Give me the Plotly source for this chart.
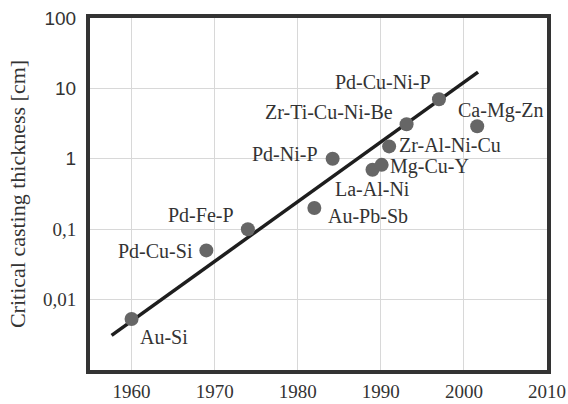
import math
import plotly.graph_objects as go

# ---- data ----
alloys = ["Au-Si", "Pd-Cu-Si", "Pd-Fe-P", "Au-Pb-Sb", "Pd-Ni-P", "La-Al-Ni",
          "Mg-Cu-Y", "Zr-Al-Ni-Cu", "Zr-Ti-Cu-Ni-Be", "Pd-Cu-Ni-P", "Ca-Mg-Zn"]
years = [1960, 1969, 1974, 1982, 1984.2, 1989, 1990.1, 1991, 1993.1, 1997, 2001.6]
thickness = [0.0053, 0.05, 0.1, 0.2, 1.0, 0.7, 0.82, 1.5, 3.1, 7.0, 2.9]

trend_years = [1957.6, 2001.7]
trend_thickness = [0.0031, 17.0]

x_ticks = [1960, 1970, 1980, 1990, 2000, 2010]
y_ticks = [0.01, 0.1, 1, 10, 100]
y_tick_labels = ["0,01", "0,1", "1", "10", "100"]

# ---- style ----
SERIF = "Liberation Serif, Times New Roman, serif"
SANS = "Liberation Sans, Arial, sans-serif"
TXT = "#333333"

# label placement (anchor, xshift, yshift) in pixels
label_style = {
    "Au-Si": ("left", 6, -18),
    "Pd-Cu-Si": ("right", -11, -1),
    "Pd-Fe-P": ("right", -12, 14),
    "Au-Pb-Sb": ("left", 12, -8),
    "Pd-Ni-P": ("right", -13, 5),
    "La-Al-Ni": ("center", 0, -19),
    "Mg-Cu-Y": ("left", 6, -2),
    "Zr-Al-Ni-Cu": ("left", 8, 1),
    "Zr-Ti-Cu-Ni-Be": ("right", -12, 12),
    "Pd-Cu-Ni-P": ("right", -6, 17),
    "Ca-Mg-Zn": ("center", 24, 16),
}

fig = go.Figure()

fig.add_trace(go.Scatter(
    x=trend_years, y=trend_thickness, mode="lines",
    line=dict(color="#1e1e1e", width=3.5), showlegend=False, hoverinfo="skip"))

fig.add_trace(go.Scatter(
    x=years, y=thickness, mode="markers",
    marker=dict(color="#666666", size=14, line=dict(width=0)),
    showlegend=False))

for name, xv, yv in zip(alloys, years, thickness):
    anchor, xs, ys = label_style[name]
    fig.add_annotation(x=xv, y=math.log10(yv), xref="x", yref="y", text=name,
                       showarrow=False, xanchor=anchor, yanchor="middle",
                       xshift=xs, yshift=ys,
                       font=dict(family=SERIF, size=20, color=TXT))

def ylab(t):
    if "," in t:
        return t
    return '<span style="font-family:Liberation Sans, Arial, sans-serif">' + t + "</span>"

fig.update_xaxes(
    type="linear", range=[1955, 2010], automargin=False,
    tickvals=x_ticks, ticktext=[str(v) for v in x_ticks],
    showgrid=True, gridcolor="#d8d8d8", gridwidth=1,
    showline=True, linecolor="#333333", linewidth=4, mirror=True,
    zeroline=False, ticks="", ticklabelstandoff=1,
    tickfont=dict(family=SERIF, size=19, color=TXT))

fig.update_yaxes(
    type="log", range=[-3, 2], automargin=False,
    tickvals=y_ticks, ticktext=[ylab(t) for t in y_tick_labels],
    showgrid=True, gridcolor="#d8d8d8", gridwidth=1,
    showline=True, linecolor="#333333", linewidth=4, mirror=True,
    zeroline=False, ticks="", ticklabelstandoff=6,
    tickfont=dict(family=SERIF, size=19, color=TXT),
    title=dict(text="Critical casting thickness [cm]", standoff=12,
               font=dict(family=SERIF, size=22, color=TXT)))

fig.update_layout(
    width=568, height=404,
    margin=dict(l=90, r=21, t=18, b=34),
    paper_bgcolor="white", plot_bgcolor="white",
    showlegend=False)

fig.write_html("out.html", config={"displayModeBar": False},
               post_script="document.body.style.margin='0px';document.body.style.overflow='hidden';")
